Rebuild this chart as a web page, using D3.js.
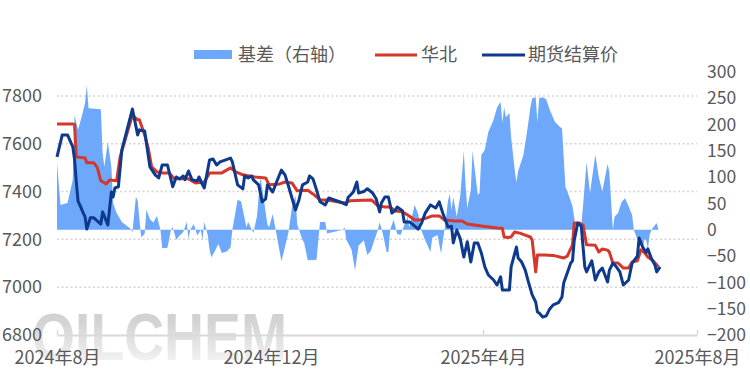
<!DOCTYPE html>
<html>
<head>
<meta charset="utf-8">
<script src="https://cdn.jsdelivr.net/npm/d3@7"></script>
<style>
  body { margin: 0; background: #fff; }
  svg text { font-family: "Noto Sans CJK SC", "Liberation Sans", sans-serif; fill: #595959; }
</style>
</head>
<body>
<svg id="chart" width="750" height="386"></svg>
<script>
// days counted from 2024-08-01
const basis = [[0,127],[2,47],[6,51],[9,95],[10,218],[12,190],[14,214],[16,241],[17,275],[18,231],[25,229],[26,146],[27,120],[29,167],[31,120],[32,51],[34,32],[37,15],[42,2],[43,-5],[45,63],[46,55],[48,-14],[50,-8],[51,38],[53,20],[55,14],[57,26],[59,0],[60,-35],[63,-34],[65,0],[66,5],[68,-19],[70,-11],[72,-4],[74,15],[75,-17],[76,0],[78,11],[80,-11],[82,0],[83,-19],[84,15],[86,-11],[87,-38],[88,-52],[90,-41],[92,-27],[94,-44],[97,-41],[99,-33],[100,0],[103,57],[105,54],[106,38],[108,5],[109,15],[112,-6],[114,25],[116,100],[117,80],[120,10],[121,5],[123,30],[125,-5],[128,-60],[130,-33],[132,-5],[134,43],[136,65],[137,10],[140,-19],[141,-25],[143,-58],[148,-57],[150,15],[153,15],[154,-7],[163,0],[164,5],[165,-19],[168,-38],[170,-77],[172,-30],[175,-20],[177,-48],[179,-40],[180,-30],[183,0],[184,15],[186,-10],[188,-42],[189,-42],[190,0],[192,19],[194,-8],[196,-10],[197,0],[200,25],[201,5],[204,47],[206,30],[208,-3],[210,-20],[213,-42],[214,-15],[217,-10],[219,-45],[221,0],[223,55],[224,68],[225,38],[226,62],[228,25],[230,65],[232,150],[233,85],[234,41],[236,76],[237,150],[240,66],[241,70],[242,142],[244,152],[246,186],[249,209],[251,233],[253,243],[254,203],[255,233],[256,214],[258,222],[259,176],[261,115],[262,90],[263,112],[266,142],[268,185],[270,233],[271,250],[273,252],[274,205],[275,250],[277,252],[279,248],[281,228],[284,205],[287,195],[288,193],[290,81],[291,74],[294,45],[296,0],[298,0],[299,8],[300,45],[302,129],[304,70],[307,143],[309,100],[311,73],[314,125],[315,110],[317,0],[318,25],[320,32],[322,53],[324,60],[326,45],[328,28],[329,0],[331,-19],[333,-20],[334,-38],[335,-18],[336,-20],[337,-35],[338,-10],[339,0],[342,13],[343,0]];

const huabei = [[0,7683],[9,7683],[10,7680],[11,7545],[16,7540],[17,7520],[21,7520],[23,7500],[25,7445],[28,7432],[30,7448],[34,7445],[36,7545],[43,7720],[46,7700],[47,7700],[50,7637],[52,7582],[54,7503],[57,7482],[60,7478],[64,7478],[67,7453],[75,7453],[79,7436],[84,7440],[87,7478],[94,7478],[99,7499],[102,7482],[106,7470],[113,7461],[119,7457],[121,7428],[127,7432],[130,7440],[134,7436],[137,7403],[143,7405],[146,7390],[150,7365],[154,7365],[164,7352],[167,7361],[179,7365],[180,7361],[183,7340],[187,7335],[190,7335],[193,7319],[197,7315],[200,7302],[204,7281],[207,7281],[211,7290],[214,7298],[218,7298],[221,7281],[227,7277],[231,7277],[234,7264],[238,7260],[242,7256],[251,7248],[254,7246],[255,7210],[257,7208],[259,7210],[261,7231],[264,7226],[267,7218],[270,7210],[271,7197],[273,7064],[274,7135],[278,7135],[283,7133],[289,7122],[291,7130],[294,7177],[295,7268],[298,7268],[300,7260],[302,7177],[307,7175],[309,7147],[311,7160],[314,7155],[315,7147],[317,7101],[320,7101],[323,7080],[326,7080],[328,7105],[331,7110],[333,7156],[335,7145],[337,7126],[340,7110],[343,7085]];

const futures = [[0,7545],[3,7637],[6,7637],[9,7587],[10,7535],[11,7440],[12,7360],[13,7344],[15,7310],[16,7294],[17,7243],[19,7290],[21,7290],[25,7264],[26,7315],[29,7260],[31,7398],[32,7377],[33,7415],[35,7420],[37,7574],[43,7745],[46,7637],[47,7658],[50,7653],[53,7503],[56,7470],[58,7457],[60,7511],[63,7511],[66,7420],[68,7461],[70,7453],[72,7465],[73,7450],[75,7486],[77,7449],[80,7444],[81,7461],[83,7428],[84,7415],[87,7532],[89,7536],[91,7511],[93,7524],[99,7540],[100,7524],[103,7428],[106,7411],[107,7465],[109,7457],[111,7465],[112,7449],[115,7428],[117,7357],[119,7369],[120,7428],[123,7398],[125,7436],[128,7490],[130,7470],[132,7423],[134,7373],[136,7323],[138,7365],[140,7428],[143,7440],[144,7465],[146,7453],[148,7407],[150,7357],[153,7344],[155,7373],[163,7352],[165,7345],[166,7375],[169,7398],[171,7440],[172,7394],[175,7400],[177,7412],[180,7394],[182,7370],[184,7315],[185,7352],[187,7377],[189,7377],[191,7310],[193,7322],[194,7335],[197,7320],[198,7273],[201,7273],[203,7262],[206,7243],[208,7269],[210,7310],[213,7344],[216,7331],[218,7357],[220,7310],[223,7252],[225,7255],[226,7185],[228,7239],[230,7202],[232,7126],[234,7190],[236,7105],[238,7185],[240,7185],[242,7143],[244,7085],[246,7051],[249,7030],[251,7009],[253,7043],[254,6988],[258,6988],[259,7085],[262,7168],[263,7122],[265,7105],[267,7072],[269,7018],[271,6968],[273,6938],[274,6896],[275,6892],[277,6875],[279,6880],[281,6909],[283,6926],[286,6935],[288,6959],[289,7018],[291,7059],[293,7101],[294,7110],[295,7197],[297,7268],[299,7255],[301,7085],[302,7064],[305,7110],[307,7030],[309,7064],[311,7080],[314,7022],[315,7070],[317,7101],[319,7085],[321,7064],[323,7009],[326,7030],[328,7101],[331,7130],[332,7206],[334,7168],[336,7145],[337,7160],[339,7120],[341,7093],[342,7064],[344,7085]];

const leftTicks = [6800, 7000, 7200, 7400, 7600, 7800];
const rightTicks = [-200, -150, -100, -50, 0, 50, 100, 150, 200, 250, 300];
const xTicks = ["2024-08-01", "2024-12-01", "2025-04-01", "2025-08-01"];
const legendNames = ["基差（右轴）", "华北", "期货结算价"];

const startDay = new Date(2024, 7, 1);
const toDate = d => d3.timeDay.offset(startDay, d);
const parseDay = d3.timeParse("%Y-%m-%d");

const svg = d3.select("#chart");
const plotLeft = 57, plotRight = 697, plotTop = 72, plotBottom = 335;

const x = d3.scaleTime().domain([startDay, new Date(2025, 7, 1)]).range([plotLeft, plotRight]);
const yL = d3.scaleLinear().domain([6800, 7900]).range([plotBottom, plotTop]);
const yR = d3.scaleLinear().domain([-200, 300]).range([plotBottom, plotTop]);

// watermark
const defs = svg.append("defs");
const grad = defs.append("linearGradient").attr("id", "wm").attr("x1", 0).attr("y1", 0).attr("x2", 0).attr("y2", 1);
grad.append("stop").attr("offset", "0%").attr("stop-color", "#cfcfcf");
grad.append("stop").attr("offset", "30%").attr("stop-color", "#d3d3d3");
grad.append("stop").attr("offset", "75%").attr("stop-color", "#ededed");
grad.append("stop").attr("offset", "100%").attr("stop-color", "#ffffff");
svg.append("text")
    .attr("x", 32).attr("y", 360)
    .attr("textLength", 255).attr("lengthAdjust", "spacingAndGlyphs")
    .style("font-family", "Liberation Sans")
    .style("font-weight", "bold")
    .style("font-size", "66px")
    .style("fill", "url(#wm)")
    .text("OILCHEM");

// gridlines
svg.append("g").selectAll("line")
    .data(leftTicks.filter(v => v > 6800))
    .enter().append("line")
    .attr("x1", plotLeft).attr("x2", plotRight)
    .attr("y1", d => yL(d)).attr("y2", d => yL(d))
    .attr("stroke", "#d4d4d4").attr("stroke-width", 1.5)
    .attr("stroke-dasharray", "2,2.5");

// basis area
const area = d3.area()
    .x(d => x(toDate(d[0])))
    .y0(yR(0))
    .y1(d => yR(d[1]));
svg.append("path").datum(basis)
    .attr("d", area)
    .attr("fill", "#6ea8fa");

const lineL = d3.line()
    .x(d => x(toDate(d[0])))
    .y(d => yL(d[1]));

svg.append("path").datum(huabei)
    .attr("d", lineL)
    .attr("fill", "none").attr("stroke", "#d5372a")
    .attr("stroke-width", 3).attr("stroke-linejoin", "round");

svg.append("path").datum(futures)
    .attr("d", lineL)
    .attr("fill", "none").attr("stroke", "#0d3a8c")
    .attr("stroke-width", 3).attr("stroke-linejoin", "round");

// x axis
const xAxis = svg.append("g")
    .attr("transform", `translate(0,${plotBottom})`)
    .call(d3.axisBottom(x)
        .tickValues(xTicks.map(parseDay))
        .tickFormat(d3.timeFormat("%Y年%-m月"))
        .tickSize(-5).tickSizeOuter(0).tickPadding(16));
xAxis.select(".domain").attr("stroke", "#d9d9d9").attr("stroke-width", 2);
xAxis.selectAll(".tick line").attr("stroke", "#d9d9d9").attr("stroke-width", 1.5);
xAxis.selectAll("text").style("font-size", "18px").style("fill", "#595959");

// left axis
const yAxisL = svg.append("g")
    .attr("transform", `translate(${plotLeft},0)`)
    .call(d3.axisLeft(yL).tickValues(leftTicks).tickFormat(d3.format("d")).tickSize(0).tickPadding(15));
yAxisL.select(".domain").remove();
yAxisL.selectAll("text").style("font-size", "18px").style("fill", "#595959");

// right axis
const yAxisR = svg.append("g")
    .attr("transform", `translate(${plotRight},0)`)
    .call(d3.axisRight(yR).tickValues(rightTicks).tickSize(0).tickPadding(10));
yAxisR.select(".domain").remove();
yAxisR.selectAll("text").style("font-size", "17.5px").style("fill", "#595959");

// legend
const lg = svg.append("g");
lg.append("rect").attr("x", 194).attr("y", 50).attr("width", 38).attr("height", 9).attr("fill", "#6ea8fa");
lg.append("text").attr("x", 238).attr("y", 55).attr("dy", "0.35em").style("font-size", "18px").text(legendNames[0]);
lg.append("line").attr("x1", 375).attr("x2", 417).attr("y1", 55).attr("y2", 55).attr("stroke", "#d5372a").attr("stroke-width", 3);
lg.append("text").attr("x", 421).attr("y", 55).attr("dy", "0.35em").style("font-size", "18px").text(legendNames[1]);
lg.append("line").attr("x1", 482).attr("x2", 525).attr("y1", 55).attr("y2", 55).attr("stroke", "#0d3a8c").attr("stroke-width", 3);
lg.append("text").attr("x", 528).attr("y", 55).attr("dy", "0.35em").style("font-size", "18px").text(legendNames[2]);
</script>
</body>
</html>
